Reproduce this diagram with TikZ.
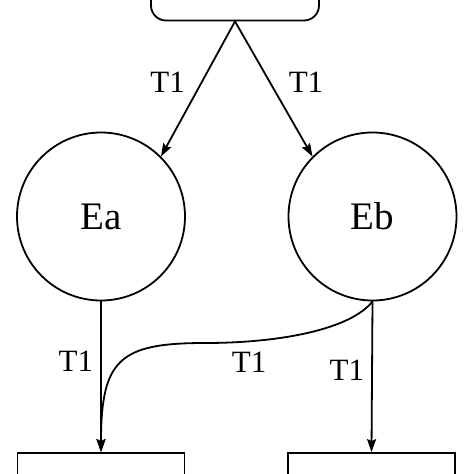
\documentclass[tikz,border=0pt]{standalone}
\usepackage{fontspec}
\setmainfont{Liberation Serif}
\usetikzlibrary{arrows.meta}
\begin{document}
\begin{tikzpicture}[x=1pt,y=-1pt,
    line width=1.8pt,
    state/.style={circle,draw=black,minimum size=168pt,inner sep=0pt,font=\fontsize{39}{39}\selectfont},
    box/.style={rectangle,draw=black,minimum width=167pt,minimum height=40pt},
    lbl/.style={inner sep=2pt,font=\fontsize{31}{31}\selectfont},
    arr/.style={-{Stealth[length=13pt,width=9pt,inset=2pt]}}]
        \useasboundingbox (0,0) rectangle (474,474);

        \node[box,rounded corners=15pt,minimum width=168pt] (Top) at (235.0,  0.5) {};
        \node[state] (Ea) at (101.0,216.5) {Ea};
        \node[state] (Eb) at (372.5,216.5) {Eb};
        \node[box]   (La) at (101.0,473.0) {};
        \node[box]   (Lb) at (371.5,473.0) {};
        \coordinate  (bend) at (205,343);

        \draw[arr]   (Top.south) to node[lbl,pos=.45,left=14pt]  {T1} (Ea.north east);
        \draw[arr]   (Top.south) to node[lbl,pos=.45,right=16pt] {T1} (Eb.north west);
        \draw[arr]   (Ea.south) to node[lbl,pos=.4,left=5pt]     {T1} (La.north);
        \draw[arr]   (Eb.south) to node[lbl,pos=.46,left=5pt]    {T1} (Lb.north);
        \draw[arr]   (Eb.south) .. controls +(-22,28) and +(75,0) .. node[lbl,pos=.8,below=8pt] {T1} (bend)
                     .. controls +(-85,0) and +(0,-93) .. (La.north);
      \end{tikzpicture}
\end{document}
